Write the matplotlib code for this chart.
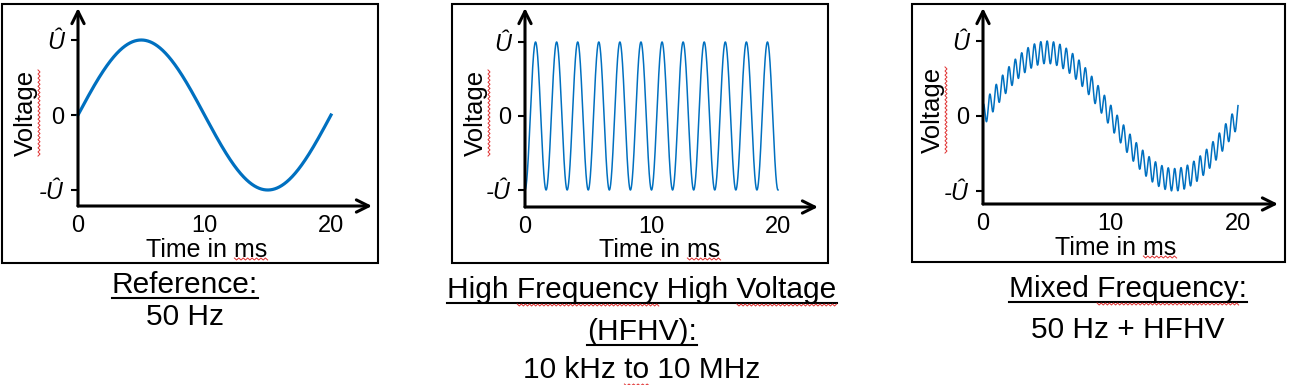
import numpy as np
import matplotlib
matplotlib.use("Agg")
import matplotlib.pyplot as plt
from matplotlib.patches import Rectangle
from matplotlib.lines import Line2D

plt.rcParams['font.family'] = ['Liberation Sans', 'DejaVu Sans']

W, H = 1292, 385

# signal parameters
mains_freq_hz = 50          # reference sine
hfhv_freq_hz = 600          # 12 periods in 20 ms
ripple_freq_hz = 2000       # ~40 ripples in 20 ms
mixed_base_amp = 0.85
mixed_ripple_amp = 0.15

x_ticks = [0, 10, 20]
y_ticks = [-1, 0, 1]
y_tick_labels = ['-Û', '0', 'Û']
x_label = 'Time in ms'
y_label = 'Voltage'

captions = [
    ['Reference:', '50 Hz'],
    ['High Frequency High Voltage', '(HFHV):', '10 kHz to 10 MHz'],
    ['Mixed Frequency:', '50 Hz + HFHV'],
]
caption_underlined = [[True, False], [True, True, False], [True, False]]
# words flagged by the spell checker (red squiggle): (line, prefix, word)
squiggles = [
    [],
    [(0, 'High ', 'Frequency'), (0, 'High Frequency High ', 'Voltage'), (2, '10 kHz ', 'to')],
    [(0, 'Mixed ', 'Frequency')],
]

BLUE = '#0070C0'
RED = '#E03030'

t = np.linspace(0, 20, 6000)  # ms
ts = t / 1000.0
waves = [
    np.sin(2 * np.pi * mains_freq_hz * ts),
    -np.cos(2 * np.pi * hfhv_freq_hz * ts),
    mixed_base_amp * np.sin(2 * np.pi * mains_freq_hz * ts)
    + mixed_ripple_amp * np.cos(2 * np.pi * ripple_freq_hz * ts - 0.4),
]
line_widths = [2.3, 1.1, 1.1]

# pixel layout of each panel
panels = [
    dict(box=(2, 4, 378, 263), ox=78, oy=206, x20=331, xa=372, y0=115, y1=40, ya=8,
         vx=26, vy=113, tx=207, tb=257, cx=185, cb=[293, 325]),
    dict(box=(452, 4, 828, 263), ox=525, oy=207, x20=778, xa=818, y0=116, y1=42, ya=8,
         vx=476, vy=113, tx=660, tb=257, cx=642, cb=[298, 340, 378]),
    dict(box=(912, 4, 1285, 262), ox=983, oy=204, x20=1238, xa=1278, y0=116, y1=41, ya=8,
         vx=933, vy=110, tx=1116, tb=255, cx=1128, cb=[297, 338]),
]

CAP_FS = 21.5
LAB_FS = 18
TICK_FS = 17


def fx(px):
    return px / W


def fy(py):
    return 1 - py / H


def squiggle(x0, x1, y, vertical=False):
    # small zigzag in pixel coordinates
    n = max(int(abs(x1 - x0) / 2), 2)
    a = np.linspace(x0, x1, n)
    b = y + np.where(np.arange(n) % 2 == 0, -1.0, 1.0)
    if vertical:
        xs, ys = b, a
    else:
        xs, ys = a, b
    fig.add_artist(Line2D(xs / W, 1 - ys / H, transform=fig.transFigure,
                          color=RED, lw=0.7))


fig = plt.figure(figsize=(W / 100, H / 100), dpi=100)

cap_texts = []
label_texts = []
for i, p in enumerate(panels):
    x0, y0b, x1, y1b = p['box']
    fig.add_artist(Rectangle((fx(x0), fy(y1b)), fx(x1 - x0), (y1b - y0b) / H,
                             transform=fig.transFigure, fill=False, lw=1.5, ec='black'))

    ax = fig.add_axes([fx(p['ox']), fy(p['oy']), fx(p['xa'] - p['ox']), (p['oy'] - p['ya']) / H])
    xmax = 20 * (p['xa'] - p['ox']) / (p['x20'] - p['ox'])
    ymin = -(p['oy'] - p['y0']) / (p['y0'] - p['y1'])
    ymax = (p['y0'] - p['ya']) / (p['y0'] - p['y1'])
    ax.set_xlim(0, xmax)
    ax.set_ylim(ymin, ymax)
    ax.patch.set_alpha(0)
    for s in ax.spines.values():
        s.set_visible(False)

    ax.plot(t, waves[i], color=BLUE, lw=line_widths[i], clip_on=False)

    for tip in [(xmax, ymin), (0, ymax)]:
        ax.annotate('', xy=tip, xytext=(0, ymin),
                    arrowprops=dict(arrowstyle='->', lw=2.2, color='black', mutation_scale=22,
                                    shrinkA=0, shrinkB=0), annotation_clip=False)

    ax.set_xticks(x_ticks)
    ax.set_xticklabels([str(v) for v in x_ticks])
    ax.set_yticks(y_ticks)
    ax.set_yticklabels(y_tick_labels)
    ax.tick_params(axis='x', length=0, pad=6.5, labelsize=TICK_FS)
    ax.tick_params(axis='y', length=5, width=1.5, pad=5, labelsize=TICK_FS)
    for lab in ax.get_yticklabels():
        if 'Û' in lab.get_text():
            lab.set_style('italic')

    tl = fig.text(fx(p['tx']), fy(p['tb']), x_label, ha='center', va='baseline', fontsize=LAB_FS)
    vl = fig.text(fx(p['vx']), fy(p['vy']), y_label, ha='center', va='center', rotation=90,
                  fontsize=LAB_FS + 0.5)
    label_texts.append((tl, vl, p['tb']))

    for j, line in enumerate(captions[i]):
        txt = fig.text(fx(p['cx']), fy(p['cb'][j]), line, ha='center', va='baseline', fontsize=CAP_FS)
        cap_texts.append((i, j, txt, caption_underlined[i][j], p['cb'][j]))

fig.canvas.draw()
renderer = fig.canvas.get_renderer()


def text_width(s, size):
    tmp = fig.text(0, 0, s, fontsize=size)
    w = tmp.get_window_extent(renderer).width
    tmp.remove()
    return w


# underline the caption headings, mark flagged words
for i, j, txt, underline, base in cap_texts:
    bb = txt.get_window_extent(renderer)
    if underline:
        yl = fy(base + 4.5)
        fig.add_artist(Line2D([bb.x0 / W, bb.x1 / W], [yl, yl], transform=fig.transFigure,
                              color='black', lw=1.5))
    for line_idx, prefix, word in squiggles[i]:
        if line_idx != j:
            continue
        xs = bb.x0 + text_width(prefix, CAP_FS)
        squiggle(xs, xs + text_width(word, CAP_FS), base + 7)

# spell-check marks on the axis labels
for tl, vl, base in label_texts:
    bb = tl.get_window_extent(renderer)
    xs = bb.x0 + text_width('Time in ', LAB_FS)
    squiggle(xs, bb.x1, base + 2)
    vb = vl.get_window_extent(renderer)
    squiggle(H - vb.y1, H - vb.y0, vb.x1 + 1, vertical=True)

fig.savefig('out.png', dpi=100)
